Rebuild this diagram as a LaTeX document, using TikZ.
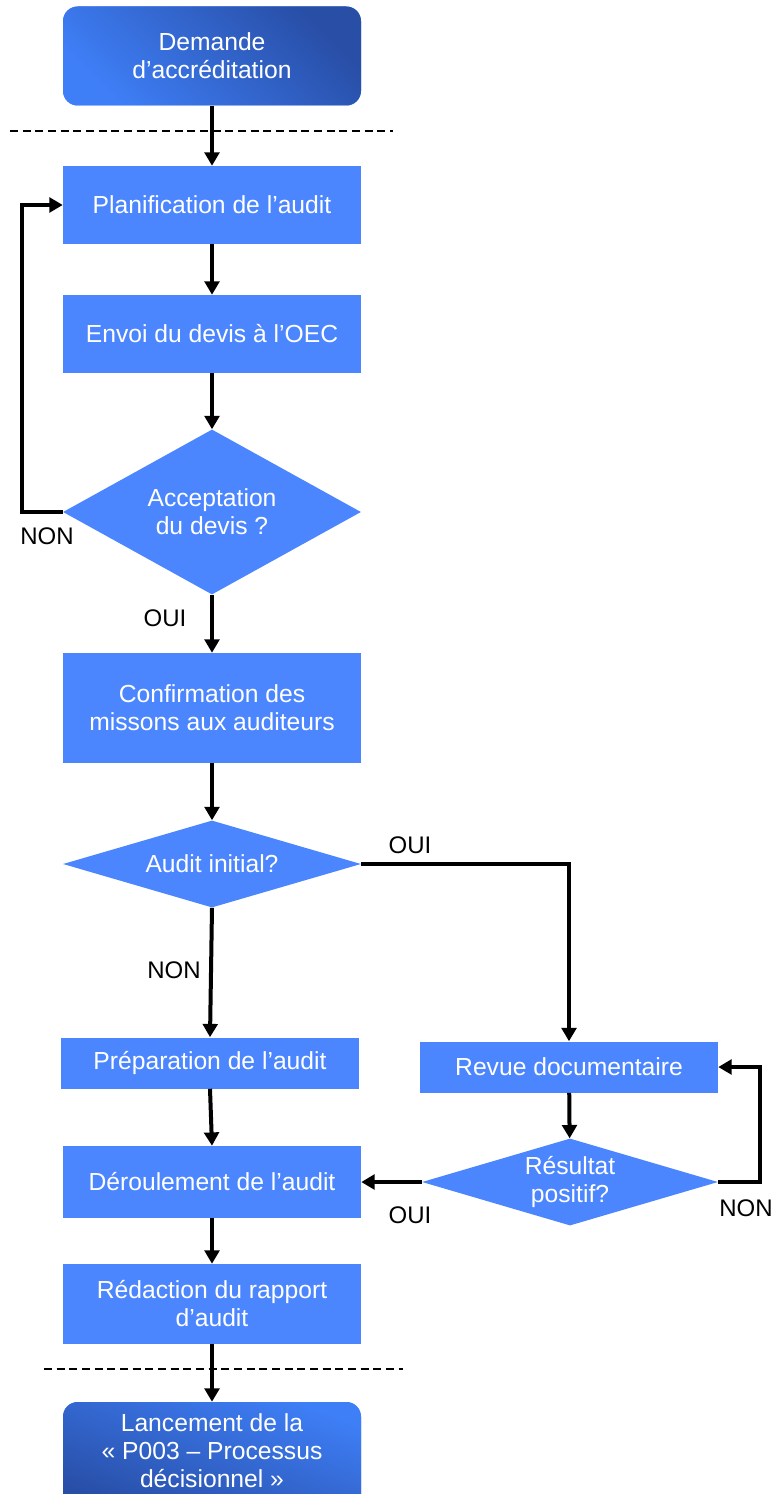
\documentclass[tikz,border=0pt]{standalone}
\usepackage{fontspec}
\setmainfont{Liberation Sans}
\usetikzlibrary{shapes.geometric,arrows.meta}
\definecolor{boxblue}{RGB}{76,134,255}
\definecolor{lightblue}{RGB}{62,126,246}
\definecolor{darkblue}{RGB}{40,78,166}
\tikzset{
    stepbox/.style={rectangle, fill=boxblue, text=white, align=center,
        minimum width=223.5pt, inner sep=0pt, font=\fontsize{18.5}{21}\selectfont},
    startbox/.style={stepbox, rounded corners=11pt},
    choice/.style={diamond, fill=boxblue, text=white, align=center, inner sep=0pt,
        minimum width=223.5pt, font=\fontsize{18.5}{21}\selectfont},
    flow/.style={line width=3pt, -{Triangle[length=10pt,width=11pt]}},
    lbl/.style={font=\fontsize{18}{21}\selectfont, inner sep=0pt},
    sep/.style={line width=1.5pt, dash pattern=on 6pt off 3.5pt}
}
\begin{document}
\begin{tikzpicture}[x=0.75pt, y=-0.75pt]
    \useasboundingbox (0,0) rectangle (773,1494);
    \clip (0,0) rectangle (773,1494);
    % nodes
    \node[startbox, minimum height=74.25pt, top color=darkblue, bottom color=lightblue, shading angle=-45] (demande) at (212,56) {Demande\\d’accréditation};
    \node[stepbox, minimum height=58.5pt] (plan) at (212,205) {Planification de l’audit};
    \node[stepbox, minimum height=58.5pt] (envoi) at (212,334) {Envoi du devis à l’OEC};
    \node[choice, minimum height=123.75pt, aspect=1.8] (accept) at (212,512) {Acceptation\\du devis ?};
    \node[stepbox, minimum height=82.5pt] (confirm) at (212,708) {Confirmation des\\missons aux auditeurs};
    \node[choice, minimum height=65.25pt, aspect=3.4] (audinit) at (212,864) {Audit initial?};
    \node[stepbox, minimum height=38.25pt] (prep) at (210,1063) {Préparation de l’audit};
    \node[stepbox, minimum height=38.25pt] (revue) at (569,1067) {Revue documentaire};
    \node[choice, minimum width=222pt, minimum height=65.25pt, aspect=3.4] (result) at (570,1182) {Résultat\\positif?};
    \node[stepbox, minimum height=54pt] (deroul) at (212,1182) {Déroulement de l’audit};
    \node[stepbox, minimum height=60pt] (redac) at (212,1304) {Rédaction du rapport\\d’audit};
    \node[startbox, minimum height=82.5pt, text depth=9pt, top color=lightblue, bottom color=darkblue, shading angle=-20] (lance) at (212,1457) {Lancement de la\\«~P003 – Processus\\décisionnel~»};
    % separators
    \draw[sep] (10,131) -- (393,131);
    \draw[sep] (44,1369) -- (403,1369);
    % labels
    \node[lbl] (nonA) at (47,536) {NON};
    \node[lbl] (ouiA) at (165,618) {OUI};
    \node[lbl] (ouiB) at (410,845) {OUI};
    \node[lbl] (nonB) at (174,970) {NON};
    \node[lbl] (nonC) at (746,1208) {NON};
    \node[lbl] (ouiC) at (410,1215) {OUI};
    % connectors
    \draw[flow] (demande) -- (plan);
    \draw[flow] (plan) -- (envoi);
    \draw[flow] (envoi) -- (accept);
    \draw[flow] (accept.west) -- ++(-41,0) |- (plan.west);
    \draw[flow] (accept) -- (confirm);
    \draw[flow] (confirm) -- (audinit);
    \draw[flow] (audinit.east) -| (revue.north);
    \draw[flow] (audinit.south) -- (prep.north);
    \draw[flow] (revue) -- (result);
    \draw[flow] (result.east) -- ++(42,0) |- (revue.east);
    \draw[flow] (result.west) -- (deroul.east);
    \draw[flow] (prep.south) -- (deroul.north);
    \draw[flow] (deroul) -- (redac);
    \draw[flow] (redac) -- (lance.north);
\end{tikzpicture}
\end{document}
